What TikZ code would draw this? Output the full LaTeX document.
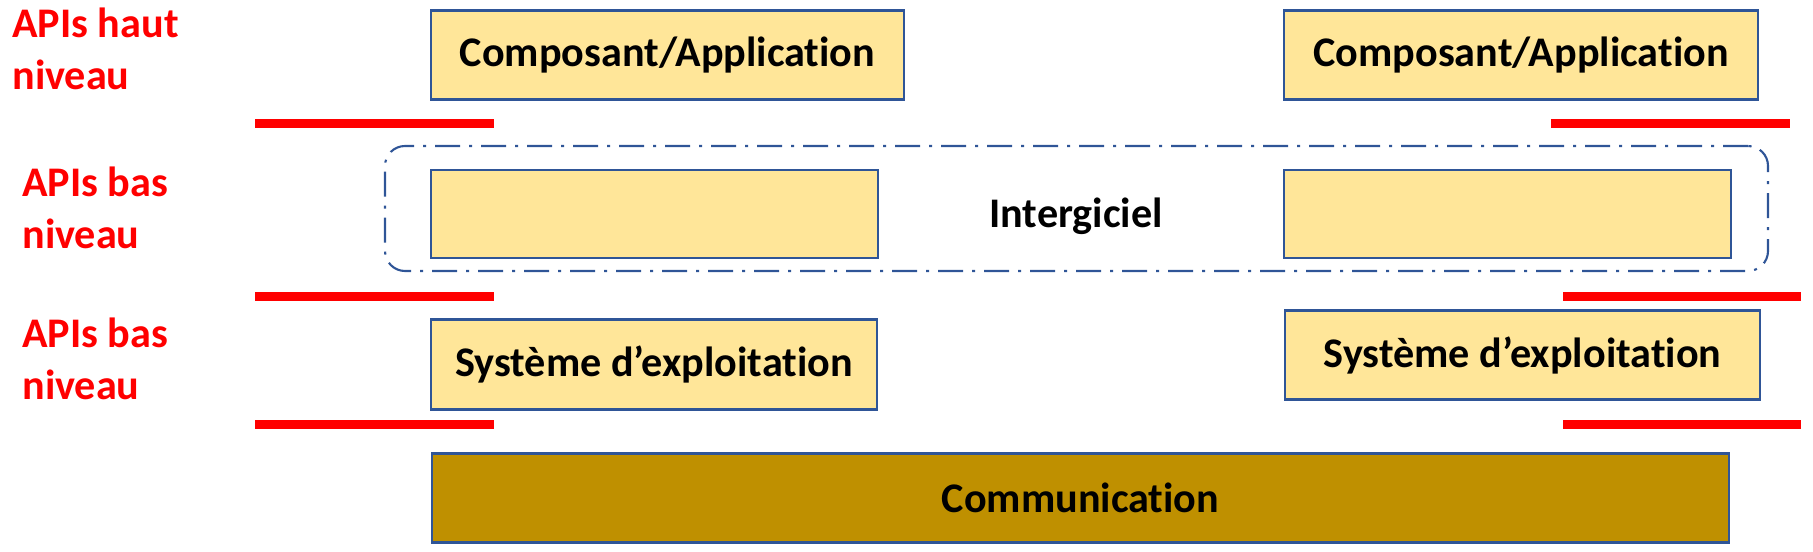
\documentclass[tikz,border=0pt]{standalone}
\usepackage{fontspec}
\setmainfont[Ligatures=NoCommon]{Carlito}
\usepackage{tikz}
\usetikzlibrary{positioning}
\usepackage{xcolor}
\definecolor{layerfill}{HTML}{FFE699}
\definecolor{layerblue}{HTML}{2F5597}
\definecolor{commgold}{HTML}{BF9000}
\definecolor{apired}{HTML}{FF0000}

\begin{document}
\begin{tikzpicture}[
  every node/.style={font=\fontsize{24}{28.5}\selectfont\bfseries},
  layer/.style={draw=layerblue, line width=1.2pt, fill=layerfill,
    minimum height=1.78cm, inner sep=0pt},
  comm/.style={layer, fill=commgold},
  middleware/.style={draw=layerblue, line width=1.2pt, rounded corners=0.4cm,
    dash pattern=on 0.5cm off 0.18cm on 0.06cm off 0.18cm,
    minimum width=27.66cm, minimum height=2.5cm},
  apilabel/.style={text=apired, align=left, anchor=base west, inner sep=0pt,
    font=\fontsize{24}{30}\selectfont\bfseries},
  apisep/.style={apired, line width=0.18cm}]
\useasboundingbox (0,0) rectangle (36.26,-11.04);
% levels, left stack
\node[layer, minimum width=9.46cm] (appl) at (13.35,-1.10) {Composant/Application};
\node[middleware] (mw) at (21.53,-4.17) {};
\node[layer, minimum width=8.94cm, minimum height=1.76cm] (mwl) at (13.09,-4.28) {};
\node[layer, minimum width=8.92cm, minimum height=1.80cm] (osl) at (13.08,-7.29) {Système d’exploitation};
% levels, right stack
\node[layer, minimum width=9.48cm] (appr) at (30.42,-1.10) {Composant/Application};
\node[layer, minimum width=8.94cm, minimum height=1.76cm] (mwr) at (30.15,-4.28) {};
\node[layer, minimum width=9.50cm] (osr) at (30.45,-7.10) {Système d’exploitation};
\node[anchor=base] (mwtext) at (21.52,-4.56) {Intergiciel};
\node[comm, minimum width=25.94cm] (net) at (21.61,-9.96) {Communication};
% API levels
\node[apilabel] (apihigh) at (0.24,-1.80) {APIs haut\\niveau};
\node[apilabel] (apilow) at (0.44,-4.98) {APIs bas\\niveau};
\node[apilabel] (apisys) at (0.44,-8.00) {APIs bas\\niveau};
\foreach \y in {-2.47,-5.94,-8.49}
  \draw[apisep] (5.10,\y) -- (9.88,\y);
\draw[apisep] (31.02,-2.47) -- (35.80,-2.47);
\foreach \y in {-5.94,-8.49}
  \draw[apisep] (31.26,\y) -- (36.02,\y);
\end{tikzpicture}
\end{document}
